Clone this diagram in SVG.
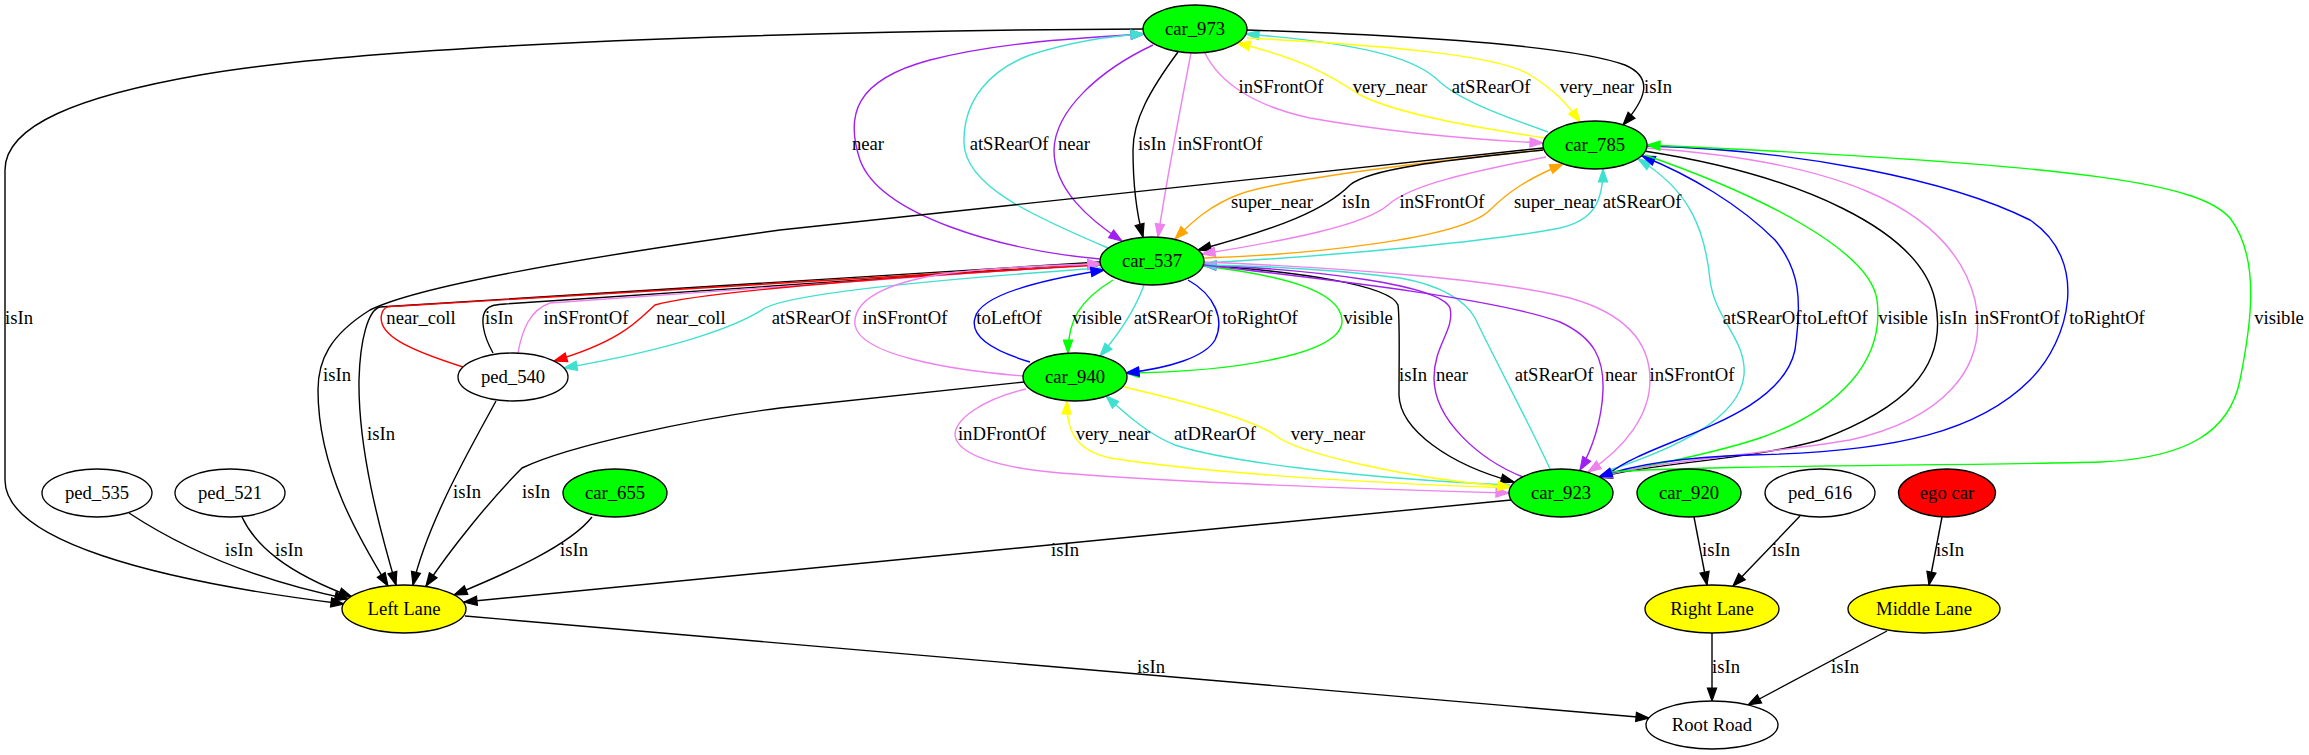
<svg xmlns="http://www.w3.org/2000/svg" width="2309" height="755" viewBox="0 0 2309 755">
<style>
text{font-family:"Liberation Serif","Times New Roman",serif;font-size:18.67px;fill:#000}
.n text{text-anchor:middle}
.n ellipse{stroke:#000;stroke-width:1.33}
.w{fill:#fff}.gr{fill:#00ff00}.ye{fill:#ffff00}.re{fill:#ff0000}
.e{fill:none;stroke-width:1.4}
.k{stroke:#000}.p{stroke:#a020f0}.v{stroke:#ee82ee}.c{stroke:#40e0d0}.y{stroke:#ffff00}.o{stroke:#ffa500}.r{stroke:#ff0000}.b{stroke:#0000ff}.g{stroke:#00ff00}
.lb text{text-anchor:middle}
marker{overflow:visible}
</style>
<defs>
<marker id="ak" viewBox="0 0 14 10" refX="13" refY="5" markerWidth="14" markerHeight="10" markerUnits="userSpaceOnUse" orient="auto"><path d="M0,0.4 L13,5 L0,9.6 z" fill="#000" stroke="#000" stroke-width="1.2"/></marker>
<marker id="ap" viewBox="0 0 14 10" refX="13" refY="5" markerWidth="14" markerHeight="10" markerUnits="userSpaceOnUse" orient="auto"><path d="M0,0.4 L13,5 L0,9.6 z" fill="#a020f0" stroke="#a020f0" stroke-width="1.2"/></marker>
<marker id="av" viewBox="0 0 14 10" refX="13" refY="5" markerWidth="14" markerHeight="10" markerUnits="userSpaceOnUse" orient="auto"><path d="M0,0.4 L13,5 L0,9.6 z" fill="#ee82ee" stroke="#ee82ee" stroke-width="1.2"/></marker>
<marker id="ac" viewBox="0 0 14 10" refX="13" refY="5" markerWidth="14" markerHeight="10" markerUnits="userSpaceOnUse" orient="auto"><path d="M0,0.4 L13,5 L0,9.6 z" fill="#40e0d0" stroke="#40e0d0" stroke-width="1.2"/></marker>
<marker id="ay" viewBox="0 0 14 10" refX="13" refY="5" markerWidth="14" markerHeight="10" markerUnits="userSpaceOnUse" orient="auto"><path d="M0,0.4 L13,5 L0,9.6 z" fill="#ffff00" stroke="#ffff00" stroke-width="1.2"/></marker>
<marker id="ao" viewBox="0 0 14 10" refX="13" refY="5" markerWidth="14" markerHeight="10" markerUnits="userSpaceOnUse" orient="auto"><path d="M0,0.4 L13,5 L0,9.6 z" fill="#ffa500" stroke="#ffa500" stroke-width="1.2"/></marker>
<marker id="ar" viewBox="0 0 14 10" refX="13" refY="5" markerWidth="14" markerHeight="10" markerUnits="userSpaceOnUse" orient="auto"><path d="M0,0.4 L13,5 L0,9.6 z" fill="#ff0000" stroke="#ff0000" stroke-width="1.2"/></marker>
<marker id="ab" viewBox="0 0 14 10" refX="13" refY="5" markerWidth="14" markerHeight="10" markerUnits="userSpaceOnUse" orient="auto"><path d="M0,0.4 L13,5 L0,9.6 z" fill="#0000ff" stroke="#0000ff" stroke-width="1.2"/></marker>
<marker id="ag" viewBox="0 0 14 10" refX="13" refY="5" markerWidth="14" markerHeight="10" markerUnits="userSpaceOnUse" orient="auto"><path d="M0,0.4 L13,5 L0,9.6 z" fill="#00ff00" stroke="#00ff00" stroke-width="1.2"/></marker>
</defs>
<rect width="2309" height="755" fill="#fff"/>
<g id="edges">
<path class="e k" marker-end="url(#ak)" d="M1143,29 C900,30 400,40 200,75 C80,96 5,125 5,170 L5,480 C5,540 150,580 344,604"/>
<path class="e p" marker-end="url(#ap)" d="M1100,259 C1000,250 880,215 860,160 C845,115 855,80 930,60 C1000,42 1080,38 1144,34"/>
<path class="e c" marker-end="url(#ac)" d="M1108,248 C1030,215 965,185 964,143 C963,100 990,70 1030,55 C1070,42 1110,36 1144,34"/>
<path class="e p" marker-end="url(#ap)" d="M1153,45 C1100,70 1055,110 1054,150 C1054,190 1090,220 1122,241"/>
<path class="e k" marker-end="url(#ak)" d="M1178,52 C1150,90 1133,120 1133,150 C1133,190 1137,215 1143,237"/>
<path class="e v" marker-end="url(#av)" d="M1191,53 C1180,110 1165,190 1158,237"/>
<path class="e v" marker-end="url(#av)" d="M1205,53 C1218,80 1250,105 1310,118 C1400,134 1480,140 1543,143"/>
<path class="e y" marker-end="url(#ay)" d="M1545,138 C1480,128 1400,115 1360,95 C1330,75 1300,58 1237,43"/>
<path class="e c" marker-end="url(#ac)" d="M1548,132 C1500,115 1460,100 1440,82 C1420,62 1380,45 1246,34"/>
<path class="e y" marker-end="url(#ay)" d="M1247,38 C1380,45 1500,55 1530,75 C1555,90 1568,105 1580,122"/>
<path class="e k" marker-end="url(#ak)" d="M1247,30 C1400,35 1570,45 1625,65 C1655,78 1645,100 1623,125"/>
<path class="e o" marker-end="url(#ao)" d="M1543,150 C1420,162 1280,180 1240,194 C1210,205 1192,222 1175,239"/>
<path class="e k" marker-end="url(#ak)" d="M1543,150 C1450,160 1370,168 1350,185 C1325,210 1280,228 1198,250"/>
<path class="e v" marker-end="url(#av)" d="M1546,157 C1470,172 1410,185 1388,205 C1365,225 1290,240 1202,254"/>
<path class="e o" marker-end="url(#ao)" d="M1204,258 C1300,255 1460,240 1490,210 C1510,190 1530,178 1563,164"/>
<path class="e c" marker-end="url(#ac)" d="M1204,263 C1350,255 1500,240 1560,228 C1595,220 1603,200 1603,169"/>
<path class="e k" marker-end="url(#ak)" d="M1543,148 L780,230 C600,255 420,285 370,310 C330,335 318,360 318,390 C318,470 360,540 388,586"/>
<path class="e k" marker-end="url(#ak)" d="M1100,262 L380,307 C368,310 360,340 359,380 C358,450 380,530 396,585"/>
<path class="e r" marker-end="url(#ar)" d="M463,367 C410,350 375,335 382,313 C384,306 390,306 400,306 L1101,264"/>
<path class="e k" marker-end="url(#ak)" d="M493,353 C483,335 480,318 486,310 C490,305 495,305 505,304 L1101,264"/>
<path class="e v" marker-end="url(#av)" d="M518,353 C522,330 530,310 550,303 L1101,264"/>
<path class="e r" marker-end="url(#ar)" d="M1100,265 C900,276 700,292 655,305 C640,318 625,340 554,361"/>
<path class="e c" marker-end="url(#ac)" d="M1101,268 C900,282 790,295 765,308 C740,325 680,348 564,368"/>
<path class="e v" marker-end="url(#av)" d="M1023,376 C950,370 860,355 855,325 C852,295 900,280 950,273 C1000,267 1050,265 1101,264"/>
<path class="e b" marker-end="url(#ab)" d="M1030,362 C990,350 970,335 975,318 C980,295 1040,280 1104,270"/>
<path class="e g" marker-end="url(#ag)" d="M1113,280 C1080,300 1068,320 1068,353"/>
<path class="e c" marker-end="url(#ac)" d="M1144,285 C1135,310 1118,335 1100,356"/>
<path class="e g" marker-end="url(#ag)" d="M1203,266 C1280,275 1340,290 1342,320 C1344,355 1230,372 1126,373"/>
<path class="e b" marker-end="url(#ab)" d="M1188,280 C1215,295 1225,320 1215,340 C1205,357 1170,368 1126,373"/>
<path class="e k" marker-end="url(#ak)" d="M1203,265 C1300,272 1390,285 1398,305 C1400,320 1399,360 1399,395 C1400,430 1450,465 1514,482"/>
<path class="e p" marker-end="url(#ap)" d="M1523,477 C1480,460 1434,420 1434,378 C1434,345 1455,330 1450,308 C1440,285 1320,270 1203,265"/>
<path class="e c" marker-end="url(#ac)" d="M1550,469 C1530,425 1495,360 1475,318 C1465,300 1440,285 1400,278 C1340,270 1270,266 1203,265"/>
<path class="e p" marker-end="url(#ap)" d="M1204,265 C1350,282 1500,300 1560,322 C1595,338 1604,360 1603,390 C1602,420 1592,450 1580,470"/>
<path class="e v" marker-end="url(#av)" d="M1204,262 C1350,268 1500,280 1570,298 C1630,315 1650,345 1650,380 C1650,415 1625,448 1588,472"/>
<path class="e v" marker-end="url(#av)" d="M1026,389 C980,400 955,420 955,435 C957,455 1000,468 1060,473 C1200,484 1400,490 1509,493"/>
<path class="e y" marker-end="url(#ay)" d="M1510,488 C1350,482 1200,472 1110,458 C1075,450 1066,430 1067,401"/>
<path class="e c" marker-end="url(#ac)" d="M1510,485 C1350,478 1220,460 1175,445 C1150,435 1130,418 1106,396"/>
<path class="e y" marker-end="url(#ay)" d="M1124,387 C1180,400 1250,418 1275,435 C1295,452 1400,478 1511,487"/>
<path class="e c" marker-end="url(#ac)" d="M1610,470 C1670,450 1740,420 1744,375 C1747,340 1715,320 1710,280 C1705,230 1690,190 1638,159"/>
<path class="e b" marker-end="url(#ab)" d="M1610,473 C1650,440 1780,420 1795,350 C1802,300 1800,270 1775,240 C1740,205 1690,175 1642,156"/>
<path class="e g" marker-end="url(#ag)" d="M1645,155 C1760,195 1870,250 1877,300 C1885,360 1840,410 1760,438 C1700,458 1640,466 1599,477"/>
<path class="e k" marker-end="url(#ak)" d="M1644,151 C1800,175 1920,230 1935,300 C1950,370 1900,410 1820,440 C1750,460 1660,462 1599,477"/>
<path class="e v" marker-end="url(#av)" d="M1646,148 C1820,160 1950,200 1975,300 C1990,370 1940,420 1850,440 C1760,455 1660,460 1599,477"/>
<path class="e b" marker-end="url(#ab)" d="M1647,146 C1800,150 1950,180 2030,220 C2090,260 2070,340 2030,380 C1980,430 1900,452 1750,455 C1680,457 1630,466 1599,477"/>
<path class="e g" marker-end="url(#ag)" d="M1612,472 C1700,465 1950,466 2100,462 C2190,458 2230,430 2240,380 C2250,330 2262,260 2230,218 C2200,185 2100,165 1647,145"/>
<path class="e k" marker-end="url(#ak)" d="M1511,500 L464,602"/>
<path class="e k" marker-end="url(#ak)" d="M1024,382 L780,408 C700,418 570,445 522,468 C490,500 450,550 426,586"/>
<path class="e k" marker-end="url(#ak)" d="M496,401 C475,440 428,520 413,585"/>
<path class="e k" marker-end="url(#ak)" d="M592,517 C570,545 510,572 454,595"/>
<path class="e k" marker-end="url(#ak)" d="M129,513 C170,540 240,577 348,599"/>
<path class="e k" marker-end="url(#ak)" d="M242,517 C255,545 285,572 352,597"/>
<path class="e k" marker-end="url(#ak)" d="M465,616 L1649,718"/>
<path class="e k" marker-end="url(#ak)" d="M1694,517 L1707,585"/>
<path class="e k" marker-end="url(#ak)" d="M1800,516 L1733,586"/>
<path class="e k" marker-end="url(#ak)" d="M1942,517 L1929,585"/>
<path class="e k" marker-end="url(#ak)" d="M1712,633 L1712,701"/>
<path class="e k" marker-end="url(#ak)" d="M1887,631 L1748,705"/>
<g class="lb">
<text x="1281" y="93">inSFrontOf</text>
<text x="1390" y="93">very_near</text>
<text x="1491" y="93">atSRearOf</text>
<text x="1597" y="93">very_near</text>
<text x="1658" y="93">isIn</text>
<text x="868" y="150">near</text>
<text x="1009" y="150">atSRearOf</text>
<text x="1074" y="150">near</text>
<text x="1152" y="150">isIn</text>
<text x="1220" y="150">inSFrontOf</text>
<text x="1272" y="208">super_near</text>
<text x="1356" y="208">isIn</text>
<text x="1442" y="208">inSFrontOf</text>
<text x="1555" y="208">super_near</text>
<text x="1642" y="208">atSRearOf</text>
<text x="19" y="324">isIn</text>
<text x="421" y="324">near_coll</text>
<text x="499" y="324">isIn</text>
<text x="586" y="324">inSFrontOf</text>
<text x="691" y="324">near_coll</text>
<text x="811" y="324">atSRearOf</text>
<text x="905" y="324">inSFrontOf</text>
<text x="1009" y="324">toLeftOf</text>
<text x="1097" y="324">visible</text>
<text x="1173" y="324">atSRearOf</text>
<text x="1260" y="324">toRightOf</text>
<text x="1368" y="324">visible</text>
<text x="1762" y="324">atSRearOf</text>
<text x="1835" y="324">toLeftOf</text>
<text x="1903" y="324">visible</text>
<text x="1953" y="324">isIn</text>
<text x="2017" y="324">inSFrontOf</text>
<text x="2107" y="324">toRightOf</text>
<text x="2279" y="324">visible</text>
<text x="337" y="381">isIn</text>
<text x="1413" y="381">isIn</text>
<text x="1452" y="381">near</text>
<text x="1554" y="381">atSRearOf</text>
<text x="1621" y="381">near</text>
<text x="1692" y="381">inSFrontOf</text>
<text x="381" y="440">isIn</text>
<text x="1002" y="440">inDFrontOf</text>
<text x="1113" y="440">very_near</text>
<text x="1215" y="440">atDRearOf</text>
<text x="1328" y="440">very_near</text>
<text x="467" y="498">isIn</text>
<text x="536" y="498">isIn</text>
<text x="239" y="556">isIn</text>
<text x="289" y="556">isIn</text>
<text x="574" y="556">isIn</text>
<text x="1065" y="556">isIn</text>
<text x="1716" y="556">isIn</text>
<text x="1786" y="556">isIn</text>
<text x="1950" y="556">isIn</text>
<text x="1151" y="673">isIn</text>
<text x="1726" y="673">isIn</text>
<text x="1845" y="673">isIn</text>
</g>
</g>
<g id="car_973" class="n"><ellipse cx="1195" cy="29" rx="52" ry="24" class="gr"/><text x="1195" y="35">car_973</text></g>
<g id="car_785" class="n"><ellipse cx="1595" cy="145" rx="52" ry="24" class="gr"/><text x="1595" y="151">car_785</text></g>
<g id="car_537" class="n"><ellipse cx="1152" cy="261" rx="52" ry="24" class="gr"/><text x="1152" y="267">car_537</text></g>
<g id="ped_540" class="n"><ellipse cx="513" cy="377" rx="55" ry="24" class="w"/><text x="513" y="383">ped_540</text></g>
<g id="car_940" class="n"><ellipse cx="1075" cy="377" rx="52" ry="24" class="gr"/><text x="1075" y="383">car_940</text></g>
<g id="ped_535" class="n"><ellipse cx="97" cy="493" rx="55" ry="24" class="w"/><text x="97" y="499">ped_535</text></g>
<g id="ped_521" class="n"><ellipse cx="230" cy="493" rx="55" ry="24" class="w"/><text x="230" y="499">ped_521</text></g>
<g id="car_655" class="n"><ellipse cx="615" cy="493" rx="52" ry="24" class="gr"/><text x="615" y="499">car_655</text></g>
<g id="car_923" class="n"><ellipse cx="1561" cy="493" rx="52" ry="24" class="gr"/><text x="1561" y="499">car_923</text></g>
<g id="car_920" class="n"><ellipse cx="1689" cy="493" rx="52" ry="24" class="gr"/><text x="1689" y="499">car_920</text></g>
<g id="ped_616" class="n"><ellipse cx="1820" cy="493" rx="55" ry="24" class="w"/><text x="1820" y="499">ped_616</text></g>
<g id="ego_car" class="n"><ellipse cx="1947" cy="493" rx="48.5" ry="24" class="re"/><text x="1947" y="499">ego car</text></g>
<g id="left_lane" class="n"><ellipse cx="404" cy="609" rx="62" ry="24" class="ye"/><text x="404" y="615">Left Lane</text></g>
<g id="right_lane" class="n"><ellipse cx="1712" cy="609" rx="67" ry="24" class="ye"/><text x="1712" y="615">Right Lane</text></g>
<g id="middle_lane" class="n"><ellipse cx="1924" cy="609" rx="76" ry="24" class="ye"/><text x="1924" y="615">Middle Lane</text></g>
<g id="root_road" class="n"><ellipse cx="1712" cy="725" rx="66" ry="24" class="w"/><text x="1712" y="731">Root Road</text></g>
</svg>
